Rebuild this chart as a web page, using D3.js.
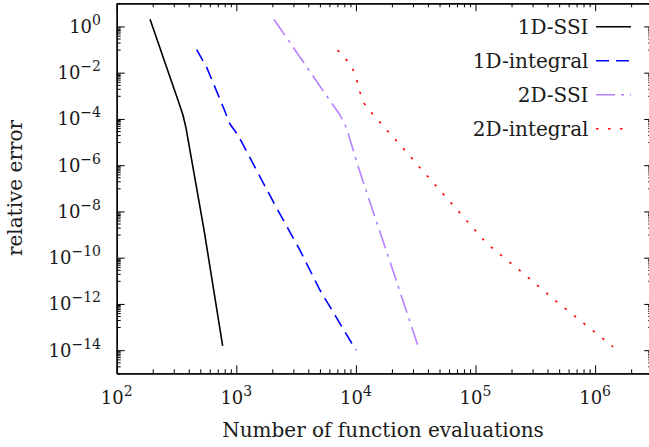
<!DOCTYPE html>
<html><head><meta charset="utf-8">
<script src="https://cdn.jsdelivr.net/npm/d3@7"></script>
<style>
body{margin:0;background:#fff}
svg{display:block}
text{font-family:"DejaVu Serif","Liberation Serif",serif;fill:#1a1a1a}
</style>
</head><body>
<svg id="chart" width="649" height="447"></svg>
<script>
// ---- data ----
const seriesNames = ["1D-SSI", "1D-integral", "2D-SSI", "2D-integral"];
const ssi1dN   = [190, 254, 325, 358, 380, 537, 769];
const ssi1dErr = [2.03, 2.6e-2, 6.6e-4, 1.48e-4, 4.0e-5, 1.6e-9, 1.55e-14];
const int1dN   = [466, 568, 759, 885, 1033, 1228, 2104, 3404, 5000, 10000];
const int1dErr = [1.0e-1, 1.6e-2, 4.4e-4, 6e-5, 2e-5, 3.7e-6, 1.9e-8, 2.1e-10, 4e-12, 1e-14];
const ssi2dN   = [2065, 3873, 5870, 7350, 8360, 10450, 14400, 20500, 32800];
const ssi2dErr = [2.0, 1.8e-2, 7.8e-4, 1.5e-4, 3.9e-5, 8.5e-7, 5.9e-9, 2.6e-11, 1.7e-14];
const int2dN   = [7030, 8360, 9490, 10250, 10790, 11720, 13520, 18070, 24840, 34280, 63100, 123600, 242700, 491000, 1413000];
const int2dErr = [9.5e-2, 3.5e-2, 1.3e-2, 4.1e-3, 1.45e-3, 4.7e-4, 1.85e-4, 3.3e-5, 5.4e-6, 7.8e-7, 2.2e-8, 4.2e-10, 2.4e-11, 1.1e-12, 1.4e-14];
const xTickExponents = [2, 3, 4, 5, 6];
const yTickExponents = [0, -2, -4, -6, -8, -10, -12, -14];
const xTitle = "Number of function evaluations";
const yTitle = "relative error";

// ---- styles ----
const colors = ["#000000", "#0000ff", "#b580ff", "#ff0000"];
const dashes = [null, "13,7", "19,6,3,6", "2.5,9.5"];

const svg = d3.select("#chart");
const L = 116.7, R = 652.2, T = 3.3, B = 373.3;
const x = d3.scaleLog().domain([1e2, 3e6]).range([L, R]);
const y = d3.scaleLog().domain([1e-15, 1e1]).range([B, T]);

// tick values
const xMajor = xTickExponents.map(e => Math.pow(10, e));
const xMinor = [];
for (let e = 2; e <= 6; e++) for (let k = 2; k <= 9; k++) { const v = k * Math.pow(10, e); if (v < 3e6) xMinor.push(v); }
const yMajor = yTickExponents.map(e => Math.pow(10, e));
const yMinor = [];
for (let e = -15; e <= 1; e += 2) for (let k = 1; k <= 9; k++) { const v = k * Math.pow(10, e); if (v >= 1e-15 && v <= 1e1) yMinor.push(v); }

function axisGroup(axis, tx, ty) {
  const g = svg.append("g").attr("transform", `translate(${tx},${ty})`).call(axis);
  g.selectAll("path.domain").attr("stroke", "#000").attr("stroke-width", 1.3);
  g.selectAll(".tick line").attr("stroke", "#000").attr("stroke-width", 1);
  g.selectAll(".tick text").remove();
  return g;
}
// bottom / top
axisGroup(d3.axisBottom(x).tickValues(xMajor).tickSizeInner(-8).tickSizeOuter(0).tickFormat(""), 0, B);
axisGroup(d3.axisBottom(x).tickValues(xMinor).tickSizeInner(-4).tickSizeOuter(0).tickFormat(""), 0, B);
axisGroup(d3.axisTop(x).tickValues(xMajor).tickSizeInner(-8).tickSizeOuter(0).tickFormat(""), 0, T);
axisGroup(d3.axisTop(x).tickValues(xMinor).tickSizeInner(-4).tickSizeOuter(0).tickFormat(""), 0, T);
// left / right
axisGroup(d3.axisLeft(y).tickValues(yMajor).tickSizeInner(-8).tickSizeOuter(0).tickFormat(""), L, 0);
axisGroup(d3.axisLeft(y).tickValues(yMinor).tickSizeInner(-4).tickSizeOuter(0).tickFormat(""), L, 0);
axisGroup(d3.axisRight(y).tickValues(yMajor).tickSizeInner(-8).tickSizeOuter(0).tickFormat(""), R, 0);
axisGroup(d3.axisRight(y).tickValues(yMinor).tickSizeInner(-4).tickSizeOuter(0).tickFormat(""), R, 0);

// tick labels with superscripts
function sup(sel, e) {
  sel.append("tspan").attr("font-size", 18).text("10");
  sel.append("tspan").attr("font-size", 14).attr("dy", -8).text(e < 0 ? "\u2212" + (-e) : String(e));
}
xTickExponents.forEach(e => {
  const t = svg.append("text").attr("x", x(Math.pow(10, e))).attr("y", 403.5).attr("text-anchor", "middle");
  sup(t, e);
});
yTickExponents.forEach(e => {
  const t = svg.append("text").attr("x", 101).attr("y", y(Math.pow(10, e)) + 6.5).attr("text-anchor", "end");
  sup(t, e);
});

// axis titles
svg.append("text").attr("x", 383).attr("y", 437).attr("text-anchor", "middle")
  .attr("font-size", 20).text(xTitle);
svg.append("text").attr("transform", "translate(22,188) rotate(-90)").attr("text-anchor", "middle")
  .attr("font-size", 20).text(yTitle);

// lines
const line = d3.line().x(d => x(d[0])).y(d => y(d[1]));
const series = [
  d3.zip(ssi1dN, ssi1dErr),
  d3.zip(int1dN, int1dErr),
  d3.zip(ssi2dN, ssi2dErr),
  d3.zip(int2dN, int2dErr)
];
series.forEach((pts, i) => {
  svg.append("path").attr("d", line(pts)).attr("fill", "none")
    .attr("stroke", colors[i]).attr("stroke-width", 1.6)
    .attr("stroke-dasharray", dashes[i]);
});

// legend
seriesNames.forEach((name, i) => {
  const by = 33.5 + i * 34;
  svg.append("text").attr("x", 588.5).attr("y", by).attr("text-anchor", "end")
    .attr("font-size", 20).text(name);
  svg.append("line").attr("x1", 596).attr("x2", 631).attr("y1", by - 6.8).attr("y2", by - 6.8)
    .attr("stroke", colors[i]).attr("stroke-width", 1.6).attr("stroke-dasharray", dashes[i]);
});
</script>
</body></html>
